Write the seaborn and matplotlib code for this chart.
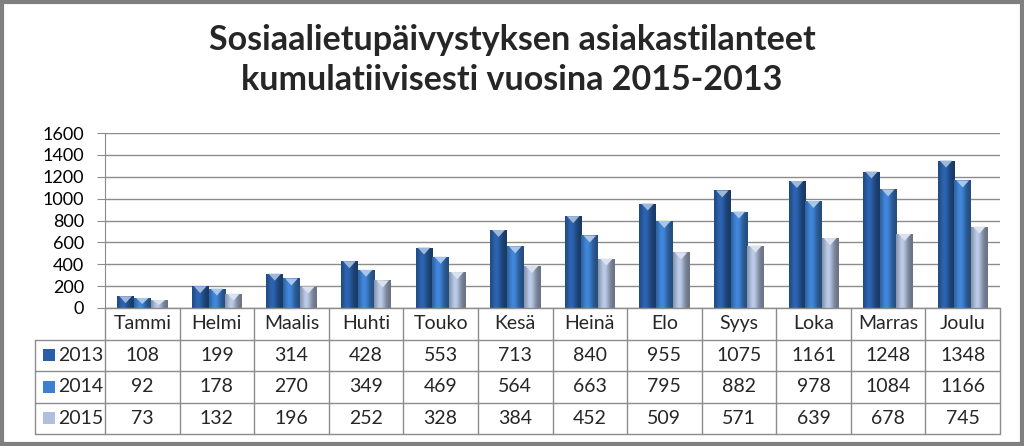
import numpy as np
import pandas as pd
import matplotlib
matplotlib.use("Agg")
import matplotlib.pyplot as plt
import seaborn as sns
from matplotlib.patches import Rectangle, Polygon
from matplotlib.colors import to_rgb

months = ["Tammi", "Helmi", "Maalis", "Huhti", "Touko", "Kesä", "Heinä",
          "Elo", "Syys", "Loka", "Marras", "Joulu"]
years = ["2013", "2014", "2015"]
v2013 = [108, 199, 314, 428, 553, 713, 840, 955, 1075, 1161, 1248, 1348]
v2014 = [92, 178, 270, 349, 469, 564, 663, 795, 882, 978, 1084, 1166]
v2015 = [73, 132, 196, 252, 328, 384, 452, 509, 571, 639, 678, 745]
yticks = [0, 200, 400, 600, 800, 1000, 1200, 1400, 1600]
title = "Sosiaalietupäivystyksen asiakastilanteet\nkumulatiivisesti vuosina 2015-2013"

colors = ["#2a5fa8", "#3d80d0", "#b0bfdb"]

df = pd.DataFrame({
    "month": months * 3,
    "year": [y for y in years for _ in months],
    "value": v2013 + v2014 + v2015,
})

sns.set_style("white")
plt.rcParams["font.family"] = ["Lato", "DejaVu Sans"]

W, H = 1024, 446
ax_l, ax_r, ax_t, ax_b = 105, 1000, 133, 308
fig = plt.figure(figsize=(W / 100, H / 100), dpi=100)
ax = fig.add_axes([ax_l / W, 1 - ax_b / H, (ax_r - ax_l) / W, (ax_b - ax_t) / H])
axw, axh = ax_r - ax_l, ax_b - ax_t

sns.barplot(data=df, x="month", y="value", hue="year", palette=colors,
            width=0.67, saturation=1, legend=False, ax=ax, order=months,
            hue_order=years, edgecolor="none", linewidth=0)

# gradient shading and bevel on bars
bev = 7 / axh * 1600
for patch in list(ax.patches):
    x0, y0 = patch.get_x(), patch.get_y()
    w, h = patch.get_width(), patch.get_height()
    if h <= 0:
        continue
    base = np.array(to_rgb(patch.get_facecolor()))
    t = np.linspace(0, 1, 32)
    shade = 0.70 + 0.40 * np.exp(-((t - 0.38) / 0.30) ** 2) - 0.10 * t
    cols = np.clip(base[None, :] * shade[:, None], 0, 1)
    im = ax.imshow(cols[None, :, :], extent=[x0, x0 + w, y0, y0 + h],
                   aspect="auto", zorder=patch.get_zorder() + 0.1,
                   interpolation="bilinear")
    im.set_clip_path(patch)
    top = y0 + h
    light = base + (1 - base) * 0.55
    ax.add_patch(Polygon([[x0 + 0.12 * w, top], [x0 + 0.88 * w, top],
                          [x0 + 0.5 * w, top - min(bev, h * 0.6)]],
                         closed=True, facecolor=light, edgecolor="none",
                         zorder=patch.get_zorder() + 0.2))

ax.set_xlim(-0.5, 11.5)
ax.set_ylim(0, 1600)
ax.set_yticks(yticks)
ax.set_yticklabels([str(v) for v in yticks], fontsize=13)
ax.set_xticks([])
ax.set_xlabel("")
ax.set_ylabel("")
ax.yaxis.grid(True, color="#8c8c8c", linewidth=1)
ax.set_axisbelow(True)
for s in ["top", "right", "bottom"]:
    ax.spines[s].set_visible(False)
ax.spines["left"].set_color("#8c8c8c")
ax.tick_params(axis="y", which="both", left=True, length=6, color="#8c8c8c",
               pad=9, labelcolor="black")

# data table drawn below the axes (axes coordinates)
tr = ax.transAxes
row_h = 31.5 / axh
lab_l = (35 - ax_l) / axw
n_rows = 4
gc = "#8c8c8c"
kw = dict(transform=tr, color=gc, linewidth=1, clip_on=False)
ax.plot([0, 1], [0, 0], **kw)
for r in range(1, n_rows + 1):
    ax.plot([lab_l, 1], [-r * row_h, -r * row_h], **kw)
for k in range(len(months) + 1):
    ax.plot([k / 12, k / 12], [0, -n_rows * row_h], **kw)
ax.plot([lab_l, lab_l], [-row_h, -n_rows * row_h], **kw)

tfs = 14
for k, m in enumerate(months):
    ax.text((k + 0.5) / 12, -0.5 * row_h, m, transform=tr, ha="center",
            va="center", fontsize=tfs)
for i, (yr, vals, col) in enumerate(zip(years, (v2013, v2014, v2015), colors)):
    yc = -(i + 1.5) * row_h
    for k, v in enumerate(vals):
        ax.text((k + 0.5) / 12, yc, str(v), transform=tr, ha="center",
                va="center", fontsize=tfs)
    ax.add_patch(Rectangle(((43 - ax_l) / axw, yc - 6 / axh), 12 / axw, 12 / axh,
                           transform=tr, facecolor=col, edgecolor="none",
                           clip_on=False))
    ax.text((58 - ax_l) / axw, yc, yr, transform=tr, ha="left", va="center",
            fontsize=tfs)

fig.text(0.5, 1 - 60 / H, title, ha="center", va="center", fontsize=24.5,
         fontweight="bold", linespacing=1.3)

fig.add_artist(Rectangle((0.002, 0.004), 0.996, 0.992, transform=fig.transFigure,
                         fill=False, edgecolor="#7f7f7f", linewidth=3))

fig.savefig("out.png", dpi=100)
